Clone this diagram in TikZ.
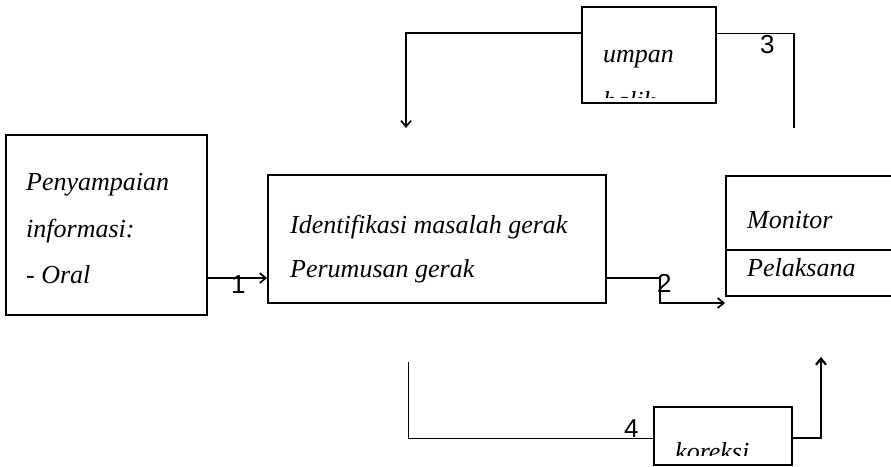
\documentclass[tikz,border=0pt]{standalone}
\usepackage{fontspec}
\setmainfont{Liberation Serif}
\newfontfamily\numfont{Liberation Sans}
\usetikzlibrary{arrows.meta}

\begin{document}
\begin{tikzpicture}[x=1pt, y=-1pt,
  kotak/.style={draw, line width=1.9pt, inner sep=0pt},
  teks/.style={anchor=base west, inner sep=0pt, font=\fontsize{26}{30}\selectfont\itshape},
  angka/.style={anchor=base west, inner sep=0pt, font=\numfont\fontsize{26}{30}\selectfont},
  garis/.style={line width=1.9pt},
  tipis/.style={line width=1pt},
  panah/.style={line width=1.7pt, -{Straight Barb[length=6pt,width=10pt]}}]
\useasboundingbox (0,0) rectangle (891,466);

% kotak
\node[kotak, minimum width=201pt, minimum height=180pt] (info) at (106.5,225) {};
\node[kotak, minimum width=338pt, minimum height=128pt] (ident) at (437,239) {};
\node[kotak, minimum width=180pt, minimum height=120pt, anchor=north west] (monitor) at (725,175) {};
\node[kotak, minimum width=134pt, minimum height=96pt] (umpan) at (649,55) {};
\node[kotak, minimum width=138pt, minimum height=58pt] (koreksi) at (723,436) {};
\draw[garis] (monitor.west |- 0,250) -- (monitor.east |- 0,250);

% isi kotak
\node[teks] (t1) at (26,190) {Penyampaian};
\node[teks] (t2) at (26,237) {informasi:};
\node[teks] (t3) at (26,283) {- Oral};
\node[teks] (t4) at (290,233) {Identifikasi masalah gerak};
\node[teks] (t5) at (290,277) {Perumusan gerak};
\node[teks] (t6) at (747,228) {Monitor};
\node[teks] (t7) at (747,276) {Pelaksana};
\begin{scope}
  \clip (582,10) rectangle (716,97);
  \node[teks] (t8) at (603,62) {umpan};
  \node[teks] (t9) at (603,109) {balik};
\end{scope}
\begin{scope}
  \clip (656,409) rectangle (790,455);
  \node[teks] (t10) at (675,460) {koreksi};
\end{scope}

% 1
\coordinate (a1) at (207,278);
\draw[panah] (a1) -- (a1 -| ident.west);
\node[angka] (n1) at (231,293) {1};

% 2
\coordinate (a2) at (606,278);
\coordinate (b2) at (660,278);
\coordinate (c2) at (725,303);
\draw[panah] (a2) -- (b2) |- (c2);
\node[angka] (n2) at (657,292) {2};

% 3
\coordinate (k3) at (406,33);
\coordinate (e3) at (406,128);
\draw[panah] (umpan.west |- k3) -- (k3) -- (e3);
\coordinate (k3b) at (794,33);
\coordinate (e3b) at (794,128);
\draw[tipis] (umpan.east |- k3b) -- (k3b);
\draw[line width=1.5pt] (k3b) -- (e3b);
\node[angka] (n3) at (760,53) {3};

% 4
\coordinate (s4) at (408,362);
\coordinate (k4) at (408,438);
\draw[tipis] (s4) -- (k4) -- (koreksi.west |- k4);
\coordinate (k4b) at (821,438);
\coordinate (e4) at (821,357);
\draw[panah, line width=2.2pt] (koreksi.east |- k4b) -- (k4b) -- (e4);
\node[angka] (n4) at (624,437) {4};
\end{tikzpicture}
\end{document}
